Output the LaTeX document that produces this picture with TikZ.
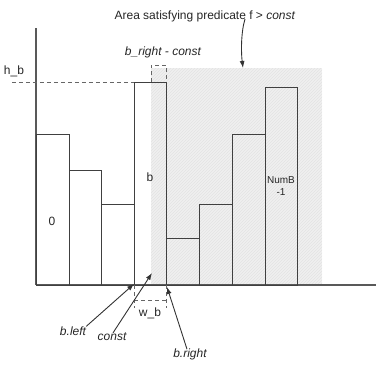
\documentclass[tikz,border=0pt]{standalone}
\usepackage{fontspec}
\setmainfont{Liberation Sans}
\usetikzlibrary{arrows.meta,patterns}
\begin{document}
\begin{tikzpicture}[x=1pt,y=-1pt,
  barbox/.style={draw=black!75, line width=0.9pt},
  axisline/.style={draw=black!65, line width=1.3pt},
  dimline/.style={draw=black!60, line width=0.9pt, dash pattern=on 4pt off 3pt},
  lbl/.style={font=\fontsize{12}{14}\selectfont, inner sep=0pt, text=black!85},
  ilbl/.style={lbl, font=\fontsize{12}{14}\selectfont\itshape},
  ptr/.style={draw=black!80, line width=0.9pt, -{Latex[length=7pt,width=5pt]}}]
\useasboundingbox (0,0) rectangle (376,368);
% shaded area
\fill[black!6] (151,68) rectangle (322,285);
\fill[pattern=north east lines, pattern color=black!11] (151,68) rectangle (322,285);
% axes
\draw[axisline] (36,28) -- (36,285);
\draw[axisline] (36,285) -- (376,285);
% bars
\draw[barbox] (36,285) rectangle (69,134);
\draw[barbox] (69,285) rectangle (101,170);
\draw[barbox] (101,285) rectangle (134,204);
\draw[barbox] (134,285) rectangle (166,82);
\draw[barbox] (166,285) rectangle (199,238);
\draw[barbox] (199,285) rectangle (232,204);
\draw[barbox] (232,285) rectangle (265,134);
\draw[barbox] (265,285) rectangle (297,87);
% dashed guides
\draw[dimline] (12,82) -- (134,82);
\draw[dimline] (151,82) -- (151,65) -- (166,65) -- (166,82);
\draw[dimline] (134,285) -- (134,308);
\draw[dimline] (166,285) -- (166,308);
\draw[dimline] (134,300) -- (166,300);
% labels
\node[lbl] (title) at (205,16) {Area satisfying predicate f > \textit{const}};
\node[lbl] (hb) at (14,71) {h\_b};
\node[ilbl] (brc) at (163,52) {b\_right - const};
\node[lbl] (zero) at (52,221) {0};
\node[lbl] (b) at (150,177) {b};
\node[lbl, font=\fontsize{10}{12}\selectfont, align=center] (numb) at (281,186) {NumB\\-1};
\node[lbl] (wb) at (150,313) {w\_b};
\node[ilbl] (bleft) at (73,331) {b.left};
\node[ilbl] (constl) at (112,337) {const};
\node[ilbl] (bright) at (190,354) {b.right};
% arrow targets
\coordinate (ttail) at (245,19);
\coordinate (ttip) at (243,68);
\coordinate (blcorner) at (134,284);
\coordinate (cpt) at (152,273);
\coordinate (brpt) at (167,287);
% arrows
\draw[ptr] (ttail) .. controls (241,32) and (241,52) .. (ttip);
\draw[ptr] (bleft.north east) -- (blcorner);
\draw[ptr] ([xshift=1pt]constl.north) -- (cpt);
\draw[ptr] ([xshift=-3pt,yshift=-1pt]bright.north) -- (brpt);
\end{tikzpicture}
\end{document}
